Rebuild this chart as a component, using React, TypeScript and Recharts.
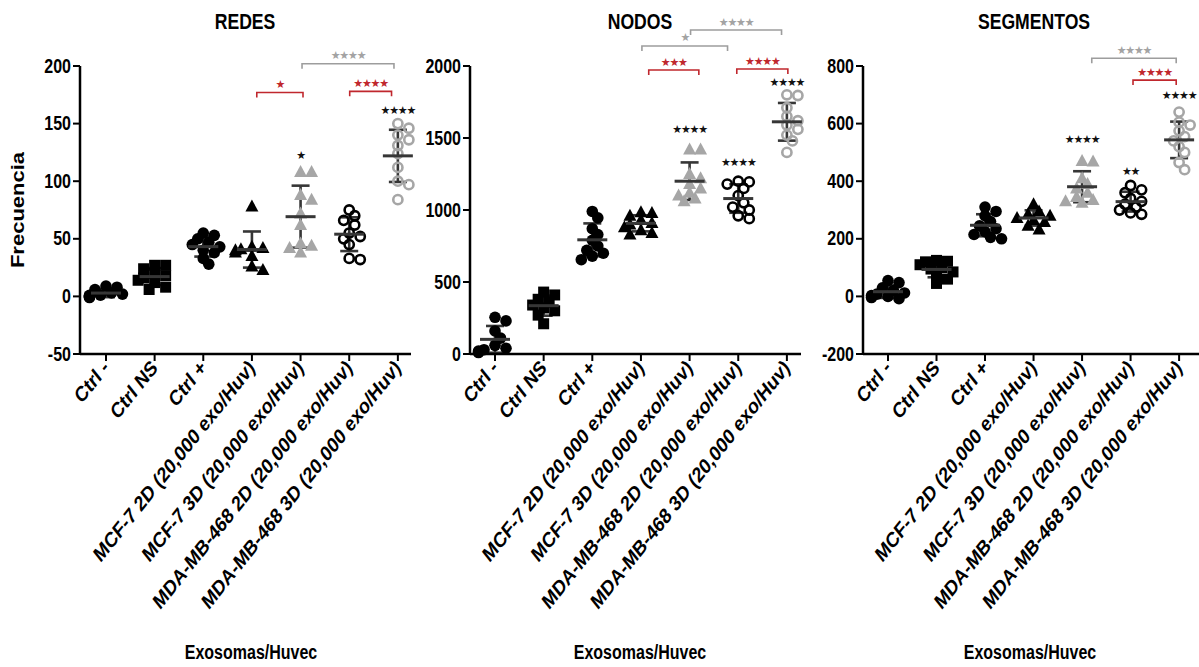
import React from 'react';
import { ScatterChart, Scatter, XAxis, YAxis, ErrorBar, ReferenceLine } from 'recharts';

const categories = [
  'Ctrl -',
  'Ctrl NS',
  'Ctrl +',
  'MCF-7 2D (20,000 exo/Huv)',
  'MCF-7 3D (20,000 exo/Huv)',
  'MDA-MB-468 2D (20,000 exo/Huv)',
  'MDA-MB-468 3D (20,000 exo/Huv)',
];

// one list of replicates per category
const redesValues = [
  [8, 9, 6, 3, 1, 0, -1, 2, 0, 1],
  [27, 27, 24, 20, 18, 16, 14, 12, 8, 6],
  [55, 53, 50, 47, 45, 43, 40, 38, 33, 28],
  [78, 43, 42, 41, 40, 38, 35, 26, 23],
  [108, 108, 88, 84, 72, 62, 46, 44, 42, 38],
  [75, 70, 66, 62, 55, 52, 50, 45, 33, 32],
  [150, 146, 140, 136, 131, 124, 112, 100, 97, 84],
];
const nodosValues = [
  [255, 230, 160, 110, 60, 40, 30, 20, 10],
  [430, 410, 380, 360, 340, 320, 300, 270, 210],
  [990, 945, 870, 830, 790, 750, 720, 700, 680, 655],
  [985, 980, 960, 930, 910, 900, 880, 860, 840, 830],
  [1420, 1420, 1250, 1220, 1180, 1150, 1120, 1100, 1080, 1060],
  [1200, 1195, 1180, 1150, 1100, 1050, 1020, 1000, 960, 940],
  [1800, 1795, 1710, 1650, 1620, 1590, 1560, 1520, 1480, 1400],
];
const segmentosValues = [
  [55, 48, 30, 20, 12, 8, 3, 0, -4, -8],
  [125, 122, 120, 110, 100, 95, 85, 75, 60, 45],
  [310, 295, 280, 260, 245, 235, 225, 215, 205, 200],
  [320, 295, 285, 280, 272, 265, 258, 245, 232],
  [470, 468, 410, 390, 375, 360, 345, 335, 330, 325],
  [385, 370, 360, 340, 330, 320, 310, 300, 290, 285],
  [640, 605, 595, 575, 555, 540, 520, 500, 465, 440],
];

const redesTicks = [-50, 0, 50, 100, 150, 200];
const nodosTicks = [0, 500, 1000, 1500, 2000];
const segmentosTicks = [-200, 0, 200, 400, 600, 800];

// significance marks above single groups
const redesStars = [
  { x: 4, y: 122, label: '*' },
  { x: 6, y: 161, label: '****' },
];
const nodosStars = [
  { x: 4, y: 1562, label: '****' },
  { x: 5, y: 1333, label: '****' },
  { x: 6, y: 1884, label: '****' },
];
const segmentosStars = [
  { x: 4, y: 546, label: '****' },
  { x: 5, y: 433, label: '**' },
  { x: 6, y: 699, label: '****' },
];

// comparison brackets
const RED = '#c0272d';
const GREY = '#9d9d9d';
const redesBrackets = [
  { x1: 3.1, x2: 4.05, y: 177, label: '*', color: RED },
  { x1: 5.01, x2: 5.87, y: 178, label: '****', color: RED },
  { x1: 4.03, x2: 5.92, y: 202, label: '****', color: GREY },
];
const nodosBrackets = [
  { x1: 3.16, x2: 4.19, y: 1972, label: '***', color: RED },
  { x1: 4.97, x2: 6.02, y: 1979, label: '****', color: RED },
  { x1: 3.02, x2: 4.78, y: 2139, label: '*', color: GREY },
  { x1: 4.02, x2: 5.89, y: 2250, label: '****', color: GREY },
];
const segmentosBrackets = [
  { x1: 5.05, x2: 5.94, y: 751, label: '****', color: RED },
  { x1: 4.2, x2: 5.94, y: 827, label: '****', color: GREY },
];

const FONT = '"Liberation Sans", Arial, sans-serif';
const PLOT_BOTTOM = 354;
const TOP_TICK_PX = 66;
const SQUISH = 0.8;
const DARK = '#363636';
const LIGHT = '#a6a6a6';
const markers = ['dot', 'square', 'dot', 'tri', 'triGrey', 'ring', 'ringGrey'];

const mean = (a: number[]) => a.reduce((s, v) => s + v, 0) / a.length;
const sd = (a: number[]) => {
  const m = mean(a);
  return Math.sqrt(a.reduce((s, v) => s + (v - m) ** 2, 0) / (a.length - 1));
};

// simple beeswarm: spread points sideways, letting them overlap a little like Prism does
function swarm(vals: number[], pxPerUnit: number, pxPerCat: number, d: number) {
  const order = vals.map((_, i) => i).sort((a, b) => vals[b] - vals[a]);
  const placed: { x: number; y: number }[] = [];
  const out = new Array(vals.length).fill(0);
  const steps = [0, 1, -1, 2, -2, 3, -3];
  for (const i of order) {
    const y = vals[i] * pxPerUnit;
    let pick = 0;
    for (const s of steps) {
      pick = s * d * 0.5;
      if (placed.every((p) => Math.hypot(p.x - pick, p.y - y) >= d * 0.7)) break;
    }
    placed.push({ x: pick, y });
    out[i] = pick / pxPerCat;
  }
  return out;
}

const markerShape = (kind: string) => (p: any) => {
  const { cx, cy } = p;
  if (cx == null || cy == null) return <g />;
  if (kind === 'dot') return <circle cx={cx} cy={cy} r={5.8} fill="#000" />;
  if (kind === 'square') return <rect x={cx - 5.5} y={cy - 5.5} width={11} height={11} fill="#000" />;
  if (kind === 'tri' || kind === 'triGrey')
    return (
      <polygon
        points={`${cx},${cy - 7} ${cx - 6.5},${cy + 5} ${cx + 6.5},${cy + 5}`}
        fill={kind === 'tri' ? '#000' : LIGHT}
      />
    );
  return (
    <circle cx={cx} cy={cy} r={4.6} fill="none" stroke={kind === 'ring' ? '#000' : LIGHT} strokeWidth={2.6} />
  );
};

const meanShape = (p: any) => {
  if (p.cx == null) return <g />;
  return <line x1={p.cx - 15} x2={p.cx + 15} y1={p.cy} y2={p.cy} stroke={DARK} strokeWidth={3} />;
};

const starShape = (color: string, lift: number) => (p: any) => {
  if (p.cx == null) return <g />;
  return (
    <text
      x={p.cx}
      y={p.cy - lift}
      textAnchor="middle"
      dominantBaseline="central"
      fontFamily='"DejaVu Sans", sans-serif'
      fontSize={11}
      letterSpacing={-1.2}
      fill={color}
    >
      {p.payload.label.replace(/\*/g, '\u2605')}
    </text>
  );
};

const CatTick = (props: any) => {
  const { x, y, payload } = props;
  return (
    <text
      transform={`translate(${x + 4},${y + 6}) scale(${SQUISH},1) rotate(-45)`}
      textAnchor="end"
      fontFamily={FONT}
      fontWeight="bold"
      fontSize={21.5}
      fill="#000"
    >
      {categories[payload.value]}
    </text>
  );
};

const ValTick = (props: any) => {
  const { x, y, payload } = props;
  return (
    <text
      transform={`translate(${x},${y}) scale(${SQUISH},1)`}
      textAnchor="end"
      dominantBaseline="central"
      fontFamily={FONT}
      fontWeight="bold"
      fontSize={20}
      fill="#000"
    >
      {payload.value}
    </text>
  );
};

interface PanelProps {
  values: number[][];
  ticks: number[];
  yMax: number;
  stars: { x: number; y: number; label: string }[];
  brackets: { x1: number; x2: number; y: number; label: string; color: string }[];
  left: number;
  plotWidth: number;
  extraRight: number;
  yAxisWidth: number;
  xDomain: [number, number];
}

const Panel: React.FC<PanelProps> = ({
  values,
  ticks,
  yMax,
  stars,
  brackets,
  left,
  plotWidth,
  extraRight,
  yAxisWidth,
  xDomain,
}) => {
  const tickMin = ticks[0];
  const tickMax = ticks[ticks.length - 1];
  const pxPerUnit = (PLOT_BOTTOM - TOP_TICK_PX) / (tickMax - tickMin);
  const marginTop = PLOT_BOTTOM - (yMax - tickMin) * pxPerUnit;
  const pxPerCat = plotWidth / (xDomain[1] - xDomain[0]);
  const summary = values.map((v, i) => ({ x: i, y: mean(v), sd: sd(v) }));

  return (
    <div style={{ position: 'absolute', left, top: 0 }}>
      <ScatterChart
        width={yAxisWidth + plotWidth + extraRight}
        height={667}
        margin={{ top: marginTop, right: extraRight, bottom: 0, left: 0 }}
      >
        <XAxis
          type="number"
          dataKey="x"
          domain={xDomain}
          ticks={[0, 1, 2, 3, 4, 5, 6]}
          interval={0}
          height={667 - PLOT_BOTTOM}
          tick={<CatTick />}
          tickSize={7}
          axisLine={{ stroke: '#000', strokeWidth: 2.5 }}
          tickLine={{ stroke: '#000', strokeWidth: 2 }}
        />
        <YAxis
          type="number"
          dataKey="y"
          domain={[tickMin, yMax]}
          ticks={ticks}
          interval={0}
          width={yAxisWidth}
          tick={<ValTick />}
          tickSize={7}
          axisLine={false}
          tickLine={{ stroke: '#000', strokeWidth: 2 }}
        />
        <ReferenceLine
          segment={[
            { x: xDomain[0], y: tickMin },
            { x: xDomain[0], y: tickMax },
          ]}
          stroke="#000"
          strokeWidth={2.5}
          ifOverflow="visible"
        />
        {values.map((vals, i) => {
          const offs = swarm(vals, pxPerUnit, pxPerCat, 11);
          return (
            <Scatter
              key={`g${i}`}
              data={vals.map((v, j) => ({ x: i + offs[j], y: v }))}
              shape={markerShape(markers[i])}
              isAnimationActive={false}
            />
          );
        })}
        <Scatter data={summary} shape={meanShape} isAnimationActive={false}>
          <ErrorBar dataKey="sd" direction="y" width={9} stroke={DARK} strokeWidth={2.6} isAnimationActive={false} />
        </Scatter>
        <Scatter data={stars} shape={starShape('#111', 0)} isAnimationActive={false} />
        {brackets.map((b, k) => {
          const foot = b.y - 5 / pxPerUnit;
          return (
            <Scatter
              key={`b${k}`}
              data={[
                { x: b.x1, y: foot },
                { x: b.x1, y: b.y },
                { x: b.x2, y: b.y },
                { x: b.x2, y: foot },
              ]}
              line={{ stroke: b.color, strokeWidth: 1.6 }}
              shape={() => <g />}
              isAnimationActive={false}
            />
          );
        })}
        {brackets.map((b, k) => (
          <Scatter
            key={`bl${k}`}
            data={[{ x: (b.x1 + b.x2) / 2, y: b.y, label: b.label }]}
            shape={starShape(b.color === RED ? RED : '#a3a3a3', 8)}
            isAnimationActive={false}
          />
        ))}
      </ScatterChart>
    </div>
  );
};

const Label: React.FC<{ x: number; y: number; size: number; rotate?: boolean; text: string }> = ({
  x,
  y,
  size,
  rotate = false,
  text,
}) => (
  <div
    style={{
      position: 'absolute',
      left: x,
      top: y,
      transform: `translate(-50%,-50%) scale(${SQUISH},1)${rotate ? ' rotate(-90deg)' : ''}`,
      fontFamily: FONT,
      fontWeight: 'bold',
      fontSize: size,
      whiteSpace: 'nowrap',
      lineHeight: 1,
      color: '#000',
    }}
  >
    {text}
  </div>
);

export default function App() {
  return (
    <div style={{ position: 'absolute', left: 0, top: 0, width: 1199, height: 667, background: '#fff', overflow: 'hidden' }}>
      <Panel
        values={redesValues}
        ticks={redesTicks}
        yMax={220}
        stars={redesStars}
        brackets={redesBrackets}
        left={0}
        plotWidth={331}
        extraRight={25}
        yAxisWidth={80}
        xDomain={[-0.534, 6.27]}
      />
      <Panel
        values={nodosValues}
        ticks={nodosTicks}
        yMax={2350}
        stars={nodosStars}
        brackets={nodosBrackets}
        left={411}
        plotWidth={331}
        extraRight={25}
        yAxisWidth={59}
        xDomain={[-0.514, 6.29]}
      />
      <Panel
        values={segmentosValues}
        ticks={segmentosTicks}
        yMax={880}
        stars={segmentosStars}
        brackets={segmentosBrackets}
        left={801}
        plotWidth={336}
        extraRight={0}
        yAxisWidth={62}
        xDomain={[-0.515, 6.41]}
      />
      <Label x={245} y={22} size={22} text="REDES" />
      <Label x={640} y={22} size={22} text="NODOS" />
      <Label x={1034} y={22} size={22} text="SEGMENTOS" />
      <Label x={18} y={210} size={22} rotate text="Frecuencia" />
      <Label x={251} y={652} size={20} text="Exosomas/Huvec" />
      <Label x={640} y={652} size={20} text="Exosomas/Huvec" />
      <Label x={1030} y={652} size={20} text="Exosomas/Huvec" />
    </div>
  );
}
